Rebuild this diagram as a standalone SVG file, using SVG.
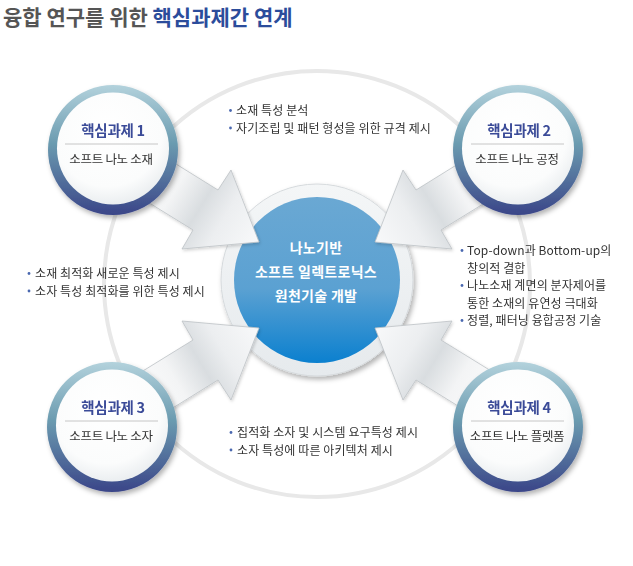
<svg xmlns="http://www.w3.org/2000/svg" width="633" height="566" viewBox="0 0 633 566">
<defs>
<style>
text{font-family:"Noto Sans CJK KR","Noto Sans",sans-serif}
.title{font-size:21px;font-weight:bold;letter-spacing:0px}
.nt{font-size:14.5px;fill:#3b4b98;font-weight:bold;letter-spacing:-0.3px;text-anchor:middle}
.ns{font-size:12.5px;fill:#333;letter-spacing:-0.3px;text-anchor:middle}
.b{font-size:12px;fill:#333;letter-spacing:0.1px}
.dot{fill:#4a68b0}
.ct{font-size:14px;fill:#fff;font-weight:bold;text-anchor:middle;letter-spacing:0.3px}
.sep{stroke:#c6c6c6;stroke-width:1}
.ring{fill:url(#ring)}
.inner{fill:url(#inner)}
.arrow{fill:url(#arr);stroke:#bcc1c5;stroke-width:0.8}
</style>
<linearGradient id="ring" x1="0" y1="0" x2="0" y2="1">
<stop offset="0" stop-color="#b3d2dc"/>
<stop offset="0.45" stop-color="#6b9bb0"/>
<stop offset="1" stop-color="#3a4588"/>
</linearGradient>
<radialGradient id="inner" cx="0.45" cy="0.35" r="0.7">
<stop offset="0" stop-color="#ffffff"/>
<stop offset="0.7" stop-color="#fbfcfc"/>
<stop offset="1" stop-color="#e6eaed"/>
</radialGradient>
<linearGradient id="blue" x1="0" y1="0" x2="0" y2="1">
<stop offset="0" stop-color="#6aa8d3"/>
<stop offset="0.55" stop-color="#5ba1d2"/>
<stop offset="1" stop-color="#0b80cf"/>
</linearGradient>
<linearGradient id="cring" x1="0" y1="0" x2="0" y2="1">
<stop offset="0" stop-color="#f4f6f7"/>
<stop offset="1" stop-color="#e6eaed"/>
</linearGradient>
<linearGradient id="arr" gradientUnits="userSpaceOnUse" x1="130" y1="163" x2="259" y2="242">
<stop offset="0" stop-color="#ffffff"/>
<stop offset="0.35" stop-color="#f3f4f5"/>
<stop offset="0.55" stop-color="#d9dde0"/>
<stop offset="0.72" stop-color="#eceef0"/>
<stop offset="1" stop-color="#f8f9fa"/>
</linearGradient>
<filter id="sh" x="-20%" y="-20%" width="150%" height="150%">
<feDropShadow dx="2" dy="3" stdDeviation="2.5" flood-color="#000" flood-opacity="0.3"/>
</filter>
<filter id="ash" x="-20%" y="-20%" width="150%" height="150%">
<feDropShadow dx="1" dy="1.5" stdDeviation="1.5" flood-color="#000" flood-opacity="0.18"/>
</filter>
<path id="arrowShape" d="M141.5,142.7 L218,190 L231,170 L259,242 L182,249 L193,230 L116.5,182.7 Z"/>
</defs>

<rect width="633" height="566" fill="#ffffff"/>

<text class="title" x="3" y="25"><tspan fill="#555555">융합 연구를 위한 </tspan><tspan fill="#2b4c9b">핵심과제간 연계</tspan></text>

<circle cx="317" cy="284" r="213" fill="none" stroke="#e8e8e8" stroke-width="4"/>

<g id="center">
<circle cx="317" cy="280" r="96" fill="url(#cring)" stroke="#d6dadd" stroke-width="1" filter="url(#sh)"/>
<circle cx="317" cy="280" r="83" fill="url(#blue)"/>
<text class="ct" x="316" y="253">나노기반</text>
<text class="ct" x="316" y="277">소프트 일렉트로닉스</text>
<text class="ct" x="316" y="301">원천기술 개발</text>
</g>

<g id="connectors" filter="url(#ash)">
<use href="#arrowShape" class="arrow"/>
<use href="#arrowShape" class="arrow" transform="matrix(-1 0 0 1 634 0)"/>
<use href="#arrowShape" class="arrow" transform="matrix(1 0 0 -1 0 570)"/>
<use href="#arrowShape" class="arrow" transform="matrix(-1 0 0 -1 634 570)"/>
</g>

<g id="node1">
<circle cx="113" cy="150" r="65" class="ring" filter="url(#sh)"/>
<circle cx="113" cy="148.5" r="56" class="inner"/>
<text class="nt" x="113" y="136">핵심과제 1</text>
<line class="sep" x1="65" y1="144" x2="158" y2="144"/>
<text class="ns" x="111" y="164">소프트 나노 소재</text>
</g>

<g id="node2">
<circle cx="518" cy="150" r="65" class="ring" filter="url(#sh)"/>
<circle cx="518" cy="148.5" r="56" class="inner"/>
<text class="nt" x="519" y="136">핵심과제 2</text>
<line class="sep" x1="471" y1="144" x2="564" y2="144"/>
<text class="ns" x="517" y="164">소프트 나노 공정</text>
</g>

<g id="node3">
<circle cx="112" cy="427" r="65" class="ring" filter="url(#sh)"/>
<circle cx="112" cy="425.5" r="56" class="inner"/>
<text class="nt" x="113" y="413">핵심과제 3</text>
<line class="sep" x1="65" y1="421" x2="158" y2="421"/>
<text class="ns" x="111" y="441">소프트 나노 소자</text>
</g>

<g id="node4">
<circle cx="518" cy="427" r="65" class="ring" filter="url(#sh)"/>
<circle cx="518" cy="425.5" r="56" class="inner"/>
<text class="nt" x="519" y="413">핵심과제 4</text>
<line class="sep" x1="471" y1="421" x2="564" y2="421"/>
<text class="ns" x="517" y="441">소프트 나노 플렛폼</text>
</g>

<g id="notes">
<circle class="dot" cx="230.5" cy="110.5" r="1.4"/>
<text class="b" x="236" y="115">소재 특성 분석</text>
<circle class="dot" cx="230.5" cy="128" r="1.4"/>
<text class="b" x="236" y="132.5">자기조립 및 패턴 형성을 위한 규격 제시</text>

<circle class="dot" cx="29" cy="273.5" r="1.4"/>
<text class="b" x="35" y="278">소재 최적화 새로운 특성 제시</text>
<circle class="dot" cx="29" cy="291" r="1.4"/>
<text class="b" x="35" y="295.5">소자 특성 최적화를 위한 특성 제시</text>

<circle class="dot" cx="462" cy="250.5" r="1.4"/>
<text class="b" x="467" y="255">Top-down과 Bottom-up의</text>
<text class="b" x="467" y="272.5">창의적 결합</text>
<circle class="dot" cx="462" cy="285.5" r="1.4"/>
<text class="b" x="467" y="290">나노소재 계면의 분자제어를</text>
<text class="b" x="467" y="307.5">통한 소재의 유연성 극대화</text>
<circle class="dot" cx="462" cy="320.5" r="1.4"/>
<text class="b" x="467" y="325">정렬, 패터닝 융합공정 기술</text>

<circle class="dot" cx="231" cy="432.5" r="1.4"/>
<text class="b" x="237" y="437">집적화 소자 및 시스템 요구특성 제시</text>
<circle class="dot" cx="231" cy="450" r="1.4"/>
<text class="b" x="237" y="454.5">소자 특성에 따른 아키텍처 제시</text>
</g>
</svg>
